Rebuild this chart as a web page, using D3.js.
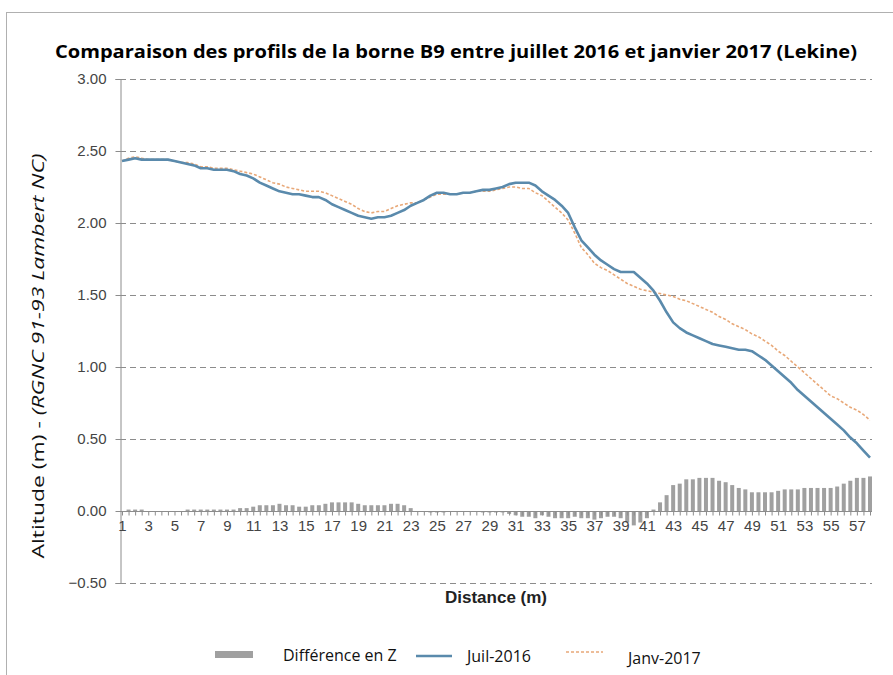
<!DOCTYPE html>
<html>
<head>
<meta charset="utf-8">
<style>
  body { margin: 0; background: #fff }
  svg { display: block }
  text { font-family: "Liberation Sans", Arial, sans-serif }
  text.calibri { font-family: "Open Sans", "Noto Sans", sans-serif }
</style>
<script src="https://cdnjs.cloudflare.com/ajax/libs/d3/7.8.5/d3.min.js"></script>
</head>
<body>
<svg id="chart"></svg>
<script>
let width = 893,
    height = 675

// distance (m), one point every 0.5 m
let distances = d3.range(1, 58.01, 0.5)
let tickLabels = d3.range(1, 58, 2)
let yTicks = [-0.5, 0, 0.5, 1, 1.5, 2, 2.5, 3]

let juil2016 = [
  2.43, 2.44, 2.45, 2.44, 2.44, 2.44, 2.44, 2.44, 2.43, 2.42,
  2.41, 2.40, 2.38, 2.38, 2.37, 2.37, 2.37, 2.36, 2.34, 2.33,
  2.31, 2.28, 2.26, 2.24, 2.22, 2.21, 2.20, 2.20, 2.19, 2.18,
  2.18, 2.16, 2.13, 2.11, 2.09, 2.07, 2.05, 2.04, 2.03, 2.04,
  2.04, 2.05, 2.07, 2.09, 2.12, 2.14, 2.16, 2.19, 2.21, 2.21,
  2.20, 2.20, 2.21, 2.21, 2.22, 2.23, 2.23, 2.24, 2.25, 2.27,
  2.28, 2.28, 2.28, 2.26, 2.22, 2.19, 2.16, 2.12, 2.07, 1.97,
  1.88, 1.83, 1.78, 1.74, 1.71, 1.68, 1.66, 1.66, 1.66, 1.62,
  1.58, 1.53, 1.46, 1.38, 1.31, 1.27, 1.24, 1.22, 1.20, 1.18,
  1.16, 1.15, 1.14, 1.13, 1.12, 1.12, 1.11, 1.08, 1.05, 1.01,
  0.97, 0.93, 0.89, 0.84, 0.80, 0.76, 0.72, 0.68, 0.64, 0.60,
  0.56, 0.51, 0.47, 0.42, 0.37
]

let janv2017 = [
  2.43, 2.45, 2.46, 2.45, 2.44, 2.44, 2.44, 2.44, 2.43, 2.42,
  2.42, 2.41, 2.39, 2.39, 2.38, 2.38, 2.38, 2.37, 2.36, 2.35,
  2.34, 2.32, 2.30, 2.28, 2.27, 2.25, 2.24, 2.23, 2.22, 2.22,
  2.22, 2.21, 2.19, 2.17, 2.15, 2.13, 2.10, 2.08, 2.07, 2.08,
  2.08, 2.10, 2.12, 2.13, 2.14, 2.14, 2.16, 2.18, 2.20, 2.20,
  2.20, 2.20, 2.21, 2.21, 2.22, 2.22, 2.22, 2.23, 2.24, 2.25,
  2.25, 2.24, 2.24, 2.21, 2.19, 2.15, 2.11, 2.07, 2.02, 1.93,
  1.83, 1.78, 1.72, 1.69, 1.67, 1.64, 1.61, 1.58, 1.56, 1.54,
  1.53, 1.52, 1.51, 1.50, 1.49, 1.47, 1.46, 1.44, 1.42, 1.40,
  1.38, 1.35, 1.33, 1.30, 1.28, 1.26, 1.23, 1.21, 1.18, 1.15,
  1.11, 1.08, 1.04, 1.00, 0.96, 0.92, 0.88, 0.84, 0.80, 0.78,
  0.75, 0.72, 0.70, 0.67, 0.63
]

let diffZ = [
  0.00, 0.01, 0.01, 0.01, 0.00, 0.00, 0.00, 0.00, 0.00, 0.00,
  0.01, 0.01, 0.01, 0.01, 0.01, 0.01, 0.01, 0.01, 0.02, 0.02,
  0.03, 0.04, 0.04, 0.04, 0.05, 0.04, 0.04, 0.03, 0.03, 0.04,
  0.04, 0.05, 0.06, 0.06, 0.06, 0.06, 0.05, 0.04, 0.04, 0.04,
  0.04, 0.05, 0.05, 0.04, 0.02, 0.00, 0.00, -0.01, -0.01, -0.01,
  0.00, 0.00, 0.00, 0.00, 0.00, -0.01, -0.01, -0.01, -0.01, -0.02,
  -0.03, -0.04, -0.04, -0.05, -0.03, -0.04, -0.05, -0.05, -0.05, -0.04,
  -0.05, -0.05, -0.06, -0.05, -0.04, -0.04, -0.05, -0.08, -0.10, -0.08,
  -0.05, 0.01, 0.06, 0.11, 0.18, 0.19, 0.22, 0.22, 0.23, 0.23,
  0.23, 0.21, 0.20, 0.18, 0.16, 0.15, 0.13, 0.13, 0.13, 0.13,
  0.14, 0.15, 0.15, 0.15, 0.16, 0.16, 0.16, 0.16, 0.16, 0.17,
  0.19, 0.21, 0.23, 0.23, 0.24
]

let svg = d3.select('#chart')
    .attr('width', width)
    .attr('height', height)

// outer chart border
svg.append('rect')
    .attr('x', 6.5).attr('y', 12.5)
    .attr('width', 900).attr('height', 700)
    .attr('fill', 'none')
    .attr('stroke', '#b0b0b0')

svg.append('text')
    .attr('class', 'calibri')
    .attr('x', 456).attr('y', 58)
    .attr('text-anchor', 'middle')
    .attr('textLength', 802)
    .attr('lengthAdjust', 'spacingAndGlyphs')
    .style('font-weight', 'bold')
    .style('font-size', '17px')
    .text('Comparaison des profils de la borne B9 entre juillet 2016 et janvier 2017 (Lekine)')

let x = d3.scalePoint()
    .domain(distances)
    .range([122, 870])

let y = d3.scaleLinear()
    .domain([-0.5, 3])
    .range([583, 79])

let plotLeft = 120, plotRight = 872

// dashed gridlines
svg.append('g')
  .selectAll('line')
  .data(yTicks.filter(d => d !== 0))
  .enter()
  .append('line')
    .attr('x1', plotLeft).attr('x2', plotRight)
    .attr('y1', d => Math.round(y(d)) + 0.5)
    .attr('y2', d => Math.round(y(d)) + 0.5)
    .attr('stroke', '#8c8c8c')
    .attr('stroke-dasharray', '6,4')

// y axis
let yAxis = svg.append('g')
    .attr('transform', 'translate(' + (plotLeft + 0.5) + ',0)')
    .call(d3.axisLeft(y).tickValues(yTicks).tickFormat(d3.format('.2f')).tickSize(5).tickPadding(9))
yAxis.select('.domain').attr('stroke', '#8c8c8c')
yAxis.selectAll('.tick line').attr('stroke', '#8c8c8c')
yAxis.selectAll('.tick text')
    .attr('fill', '#444')
    .style('font-size', '15px')

// difference bars
svg.append('g')
  .selectAll('rect')
  .data(diffZ)
  .enter()
  .append('rect')
    .attr('x', (d, i) => x(distances[i]) - 2)
    .attr('width', 4)
    .attr('y', d => y(Math.max(0, d)))
    .attr('height', d => Math.abs(y(d) - y(0)))
    .attr('fill', '#a0a0a0')

// x axis on the zero line
let xAxis = svg.append('g')
    .attr('transform', 'translate(0,' + (Math.round(y(0)) + 0.5) + ')')
    .call(d3.axisBottom(x)
      .tickSize(4)
      .tickPadding(5)
      .tickFormat(d => tickLabels.includes(d) ? d : ''))
xAxis.select('.domain').attr('d', 'M' + plotLeft + ',0H' + plotRight).attr('stroke', '#8c8c8c')
xAxis.selectAll('.tick line').attr('stroke', '#8c8c8c')
xAxis.selectAll('.tick text')
    .attr('fill', '#444')
    .style('font-size', '15px')

let line = d3.line()
    .x((d, i) => x(distances[i]))
    .y(d => y(d))

svg.append('path')
    .datum(janv2017)
    .attr('d', line)
    .attr('fill', 'none')
    .attr('stroke', '#e8a878')
    .attr('stroke-width', 1.6)
    .attr('stroke-dasharray', '3,2')

svg.append('path')
    .datum(juil2016)
    .attr('d', line)
    .attr('fill', 'none')
    .attr('stroke', '#5a8aac')
    .attr('stroke-width', 2.6)
    .attr('stroke-linejoin', 'round')

// axis titles
svg.append('text')
    .attr('x', 496).attr('y', 603)
    .attr('text-anchor', 'middle')
    .style('font-weight', 'bold')
    .style('font-size', '17px')
    .attr('fill', '#222')
    .text('Distance (m)')

let yTitle = svg.append('text')
    .attr('class', 'calibri')
    .attr('transform', 'translate(44,356) rotate(-90)')
    .attr('text-anchor', 'middle')
    .attr('textLength', 405)
    .attr('lengthAdjust', 'spacingAndGlyphs')
    .style('font-size', '16.5px')
    .attr('fill', '#111')
yTitle.append('tspan').text('Altitude (m) - ')
yTitle.append('tspan').style('font-style', 'italic').text('(RGNC 91-93 Lambert NC)')

// legend
let legend = svg.append('g')

legend.append('rect')
    .attr('x', 215).attr('y', 651).attr('width', 38).attr('height', 7)
    .attr('fill', '#a0a0a0')

legend.append('line')
    .attr('x1', 416).attr('x2', 452).attr('y1', 656).attr('y2', 656)
    .attr('stroke', '#5a8aac').attr('stroke-width', 2.6)

legend.append('line')
    .attr('x1', 566).attr('x2', 603).attr('y1', 652).attr('y2', 652)
    .attr('stroke', '#e8a878').attr('stroke-width', 1.6)
    .attr('stroke-dasharray', '3,2')

let legendLabels = ['Différence en Z', 'Juil-2016', 'Janv-2017']
let legendX = [283, 467, 628]
let legendY = [661, 662, 664]

legend.selectAll('text')
  .data(legendLabels)
  .enter()
  .append('text')
    .attr('class', 'calibri')
    .attr('x', (d, i) => legendX[i])
    .attr('y', (d, i) => legendY[i])
    .style('font-size', '16px')
    .attr('fill', '#111')
    .text(d => d)
</script>
</body>
</html>
